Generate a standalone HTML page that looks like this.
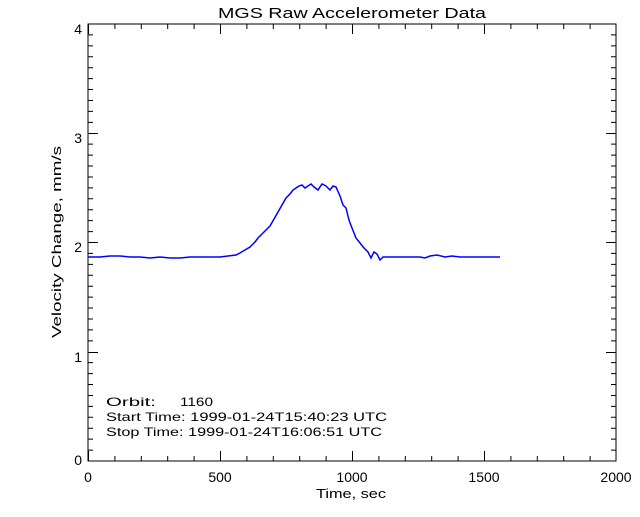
<!DOCTYPE html>
<html><head><style>
html,body{margin:0;padding:0;background:#fff;}
svg text{font-family:"Liberation Sans",sans-serif;fill:#000;white-space:pre;}
</style></head><body>
<svg width="640" height="512" xmlns="http://www.w3.org/2000/svg">
<rect width="640" height="512" fill="#fff"/>
<rect x="88" y="24" width="528" height="437" fill="none" stroke="#000" stroke-width="1"/>
<g stroke="#000" stroke-width="1" id="ticks">
<path d="M88.5,461v-10M220.5,461v-10M352.5,461v-10M484.5,461v-10M88.5,24v10M220.5,24v10M352.5,24v10M484.5,24v10
M114.9,461v-5M141.3,461v-5M167.7,461v-5M194.1,461v-5M246.9,461v-5M273.3,461v-5M299.7,461v-5M326.1,461v-5M378.9,461v-5M405.3,461v-5M431.7,461v-5M458.1,461v-5M510.9,461v-5M537.3,461v-5M563.7,461v-5M590.1,461v-5
M114.9,24v5M141.3,24v5M167.7,24v5M194.1,24v5M246.9,24v5M273.3,24v5M299.7,24v5M326.1,24v5M378.9,24v5M405.3,24v5M431.7,24v5M458.1,24v5M510.9,24v5M537.3,24v5M563.7,24v5M590.1,24v5
M88,133.5h10M88,242.5h10M88,352.5h10M616,133.5h-10M616,242.5h-10M616,352.5h-10"/>
</g>
<g stroke="#000" stroke-width="1" id="yminor"></g>
<text x="218" y="18" font-size="15" textLength="268" lengthAdjust="spacingAndGlyphs">MGS Raw Accelerometer Data</text>
<g font-size="14" text-anchor="end">
<text x="82" y="34">4</text><text x="82" y="143">3</text><text x="82" y="252">2</text><text x="82" y="362">1</text><text x="82" y="465">0</text>
</g>
<g font-size="14" text-anchor="middle">
<text x="88" y="482">0</text><text x="220" y="482">500</text><text x="352" y="482">1000</text><text x="484" y="482">1500</text><text x="616" y="482">2000</text>
</g>
<text x="316" y="498" font-size="13" textLength="70" lengthAdjust="spacingAndGlyphs">Time, sec</text>
<text transform="translate(61,338) rotate(-90)" font-size="13" textLength="192" lengthAdjust="spacingAndGlyphs">Velocity Change, mm/s</text>
<g font-size="12">
<text x="106" y="406" textLength="50" lengthAdjust="spacingAndGlyphs">Orbit:</text>
<text x="180" y="406" textLength="33" lengthAdjust="spacingAndGlyphs">1160</text>
<text x="106" y="421" textLength="281" lengthAdjust="spacingAndGlyphs">Start Time: 1999-01-24T15:40:23 UTC</text>
<text x="106" y="436" textLength="276" lengthAdjust="spacingAndGlyphs">Stop Time: 1999-01-24T16:06:51 UTC</text>
</g>
<polyline fill="none" stroke="#0000ff" stroke-width="1.5" points="88,257 100,257 110,256 120,256 130,257 140,257 150,258 160,257 170,258 180,258 190,257 200,257 210,257 220,257 228,256 236,255 240,253 245,250 250,247 255,242 258,238 262,234 266,230 270,226 274,219 278,212 282,205 286,198 290,194 293,190 296,188 299,186 302,185 305,188 308,186 311,184 314,187 318,190 322,184 326,186 330,190 333,186 336,187 340,196 343,205 346,208 349,220 352,228 356,238 360,243 364,248 368,252 371,258 374,252 377,254 380,260 383,257 390,257 400,257 410,257 420,257 425,258 430,256 437,255 445,257 452,256 460,257 470,257 480,257 490,257 500,257"/>
<script>
var g=document.getElementById('yminor'),s='';
for(var i=1;i<40;i++){if(i%10==0)continue;var y=461-i*109.25/10;s+='M88,'+y+'h5M616,'+y+'h-5';}
var p=document.createElementNS('http://www.w3.org/2000/svg','path');p.setAttribute('d',s);g.appendChild(p);
</script>
</svg>
</body></html>
